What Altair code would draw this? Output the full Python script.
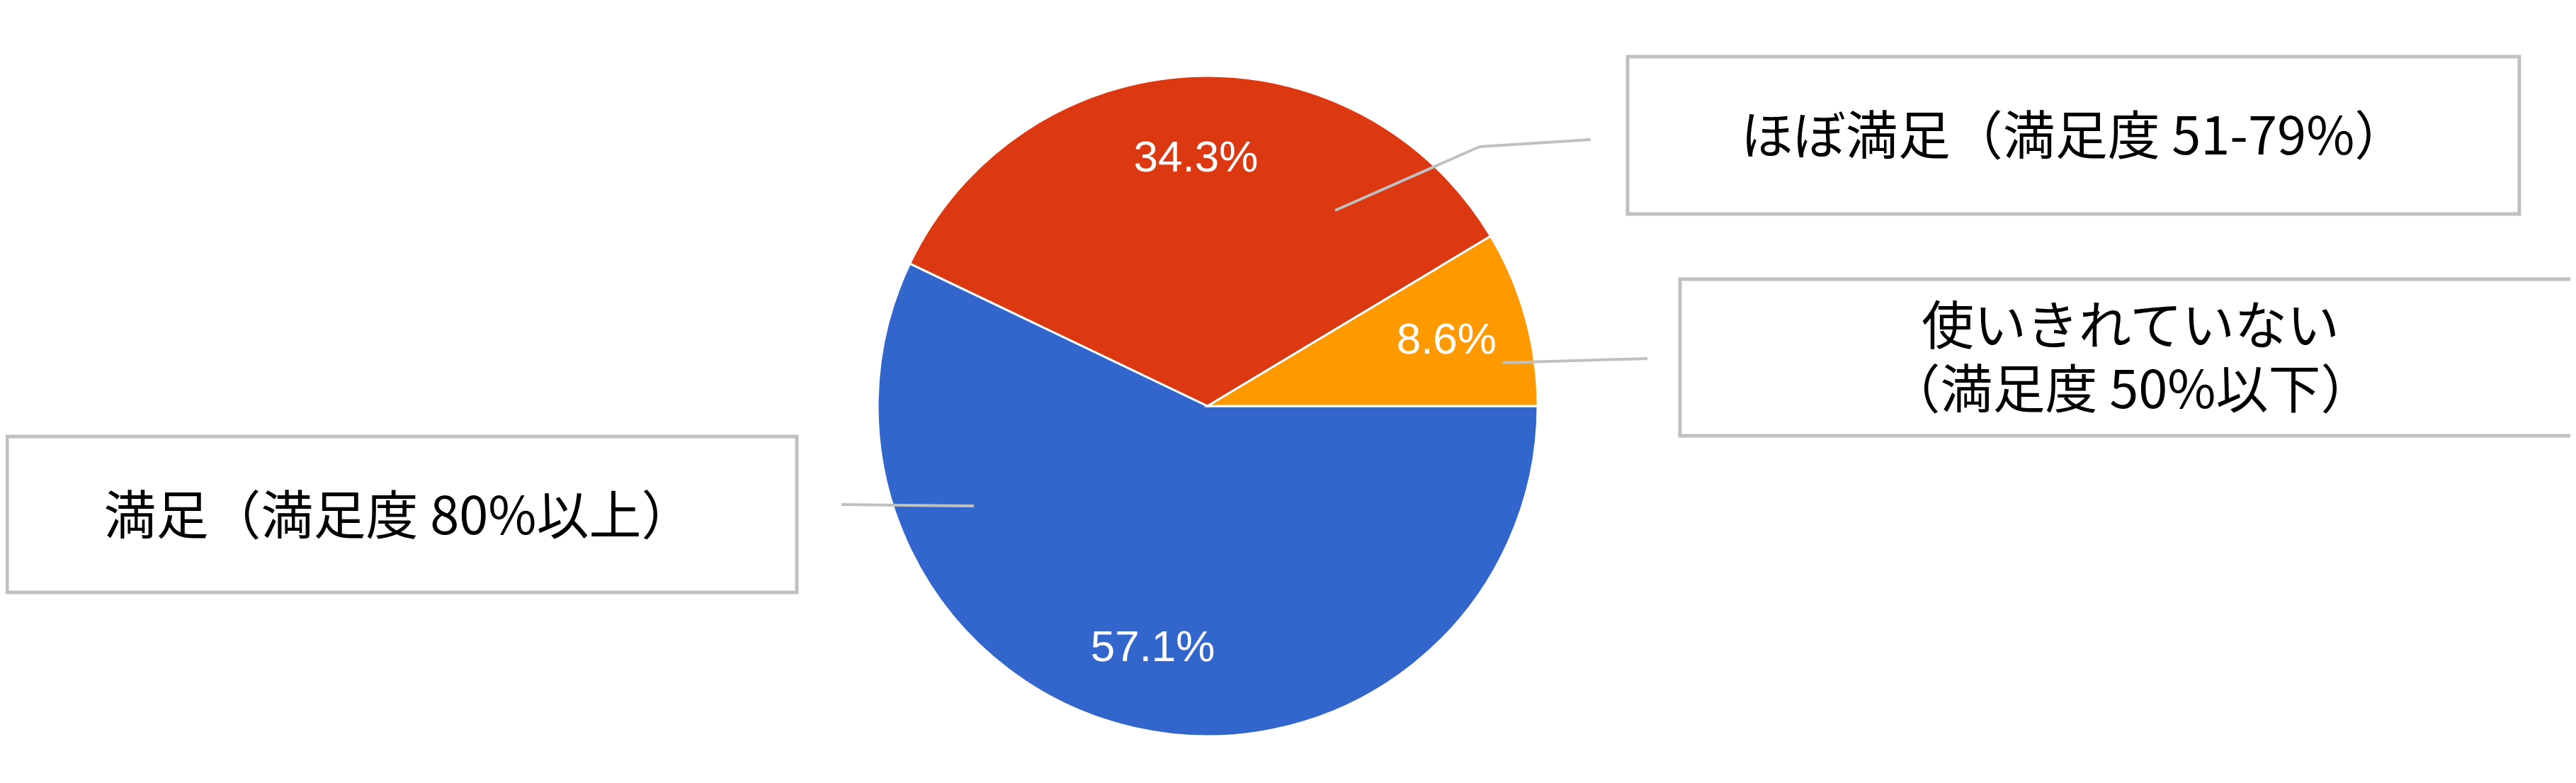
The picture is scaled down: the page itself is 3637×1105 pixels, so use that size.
import math
import altair as alt
import pandas as pd

# ---- data ----
categories = ["満足（満足度 80%以上）", "ほぼ満足（満足度 51-79%）", "使いきれていない\n（満足度 50%以下）"]
values = [57.1, 34.3, 8.6]
pct_labels = ["57.1%", "34.3%", "8.6%"]
slice_order = [0, 1, 2]
colors = ["#3366CC", "#DC3912", "#FF9900"]

# ---- layout (page pixels) ----
OFF = 8
W, H = 3637 - 2 * OFF, 1105 - 2 * OFF
CX, CY, R = 1705, 573, 466
LABEL_R = 350

box_layout = {
    # x, x2, y, y2 of the callout box
    categories[0]: (10, 1125, 616, 836),
    categories[1]: (2298, 3557, 80, 302),
    categories[2]: (2372, 3632, 394, 615),
}
text_pos = {
    categories[0]: (563, 732),
    categories[1]: (2928, 196),
    categories[2]: (3008, 464),
}
leader_segments = [
    (1375, 714, 1188, 712),
    (1885, 297, 2089, 207),
    (2089, 207, 2246, 197),
    (2122, 512, 2326, 506),
]

pie_df = pd.DataFrame({
    "category": categories,
    "value": values,
    "label": pct_labels,
    "order": slice_order,
})

box_df = pd.DataFrame({
    "category": categories,
    "x": [box_layout[c][0] - OFF for c in categories],
    "x2": [box_layout[c][1] - OFF for c in categories],
    "y": [box_layout[c][2] - OFF for c in categories],
    "y2": [box_layout[c][3] - OFF for c in categories],
    "tx": [text_pos[c][0] - OFF for c in categories],
    "ty": [text_pos[c][1] - OFF for c in categories],
})

seg_df = pd.DataFrame({
    "x": [s[0] - OFF for s in leader_segments],
    "y": [s[1] - OFF for s in leader_segments],
    "x2": [s[2] - OFF for s in leader_segments],
    "y2": [s[3] - OFF for s in leader_segments],
})

theta_scale = alt.Scale(range=[math.pi / 2, math.pi / 2 + 2 * math.pi])

base = alt.Chart(pie_df).encode(
    theta=alt.Theta("value:Q", stack=True, scale=theta_scale),
    order=alt.Order("order:Q"),
    x=alt.value(CX - OFF),
    y=alt.value(CY - OFF),
)

pie = base.mark_arc(outerRadius=R, stroke="white", strokeWidth=3).encode(
    color=alt.Color("category:N", scale=alt.Scale(domain=categories, range=colors), legend=None)
)

pct = base.mark_text(
    radius=LABEL_R, font="Liberation Sans", fontSize=62, fill="white",
    align="center", baseline="middle"
).encode(text="label:N")

leaders = alt.Chart(seg_df).mark_rule(color="#C0C0C0", strokeWidth=4).encode(
    x=alt.X("x:Q", scale=None, axis=None),
    y=alt.Y("y:Q", scale=None, axis=None),
    x2="x2:Q",
    y2="y2:Q",
)

boxes = alt.Chart(box_df).mark_rect(fill="white", stroke="#C0C0C0", strokeWidth=5).encode(
    x=alt.X("x:Q", scale=None, axis=None),
    x2="x2:Q",
    y=alt.Y("y:Q", scale=None, axis=None),
    y2="y2:Q",
)

box_text = alt.Chart(box_df).mark_text(
    font="Noto Sans CJK JP", fontSize=74, color="black", align="center",
    baseline="middle", lineBreak="\n", lineHeight=90
).encode(
    x=alt.X("tx:Q", scale=None, axis=None),
    y=alt.Y("ty:Q", scale=None, axis=None),
    text="category:N",
)

chart = alt.layer(pie, leaders, pct, boxes, box_text).properties(
    width=W, height=H, padding=0, autosize=alt.AutoSizeParams(type="none"),
    background="white",
).configure_view(stroke=None)

chart.save("out.html", embed_options={"renderer": "svg", "actions": False})
